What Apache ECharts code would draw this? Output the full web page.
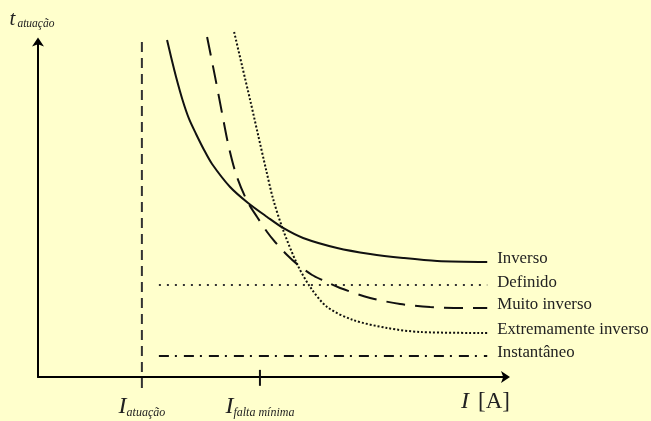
<!DOCTYPE html>
<html>
<head>
<meta charset="utf-8">
<script src="https://cdn.jsdelivr.net/npm/echarts@6/dist/echarts.min.js"></script>
<style>
html,body{margin:0;padding:0;background:#FFFFCC;}
#chart{width:651px;height:421px;}
</style>
</head>
<body>
<div id="chart"></div>
<script>
// Units: current I (x, 0..99) and operating time t (y, 0..98.8), arbitrary
const inverso = [[27.33,99.41],[28.18,94.40],[29.24,88.50],[30.61,81.71],[31.99,76.11],[33.47,71.68],[35.17,66.96],[36.86,62.83],[40.68,56.05],[44.49,51.33],[48.52,47.20],[51.91,43.95],[56.14,41.00],[63.35,38.05],[70.34,36.28],[77.33,35.10],[84.53,34.22],[95.13,33.92]];
const muitoInverso = [[35.81,100.29],[37.50,88.50],[39.09,76.99],[40.36,68.14],[42.06,59.29],[44.28,51.92],[46.40,47.20],[48.52,42.77],[50.21,39.82],[52.75,35.99],[55.08,33.04],[58.05,30.09],[60.17,28.61],[63.98,26.25],[70.34,23.30],[76.69,21.53],[83.05,20.65],[90.04,20.35],[95.13,20.35]];
const extremamenteInverso = [[41.53,101.77],[43.22,91.74],[44.92,81.71],[46.61,71.39],[48.31,61.06],[49.79,52.51],[51.91,43.36],[54.87,33.33],[57.63,26.55],[61.23,20.65],[66.74,16.81],[73.94,14.45],[80.93,13.27],[95.13,12.98]];
const definido = [[25.6,27.1],[95.13,27.1]];
const instantaneo = [[25.6,6.2],[95.13,6.2]];
const iAtuacao = 22.0;
const iFaltaMinima = 47.0;
const atuacaoLine = [[iAtuacao,98.8],[iAtuacao,-4.4]];
const faltaTick = [[iFaltaMinima,2.1],[iFaltaMinima,-2.6]];
const seriesNames = ['Inverso','Definido','Muito inverso','Extremamente inverso','Instantâneo'];

const serif = "'Liberation Serif','Times New Roman',serif";
const ink = '#111';
const endLabel = {show:true, formatter:'{a}', distance:10, offset:[0,-3], fontFamily:serif, fontSize:16.8, color:'#222'};

const chart = echarts.init(document.getElementById('chart'));
chart.setOption({
  backgroundColor:'#FFFFCC',
  animation:false,
  grid:{left:38, right:145.5, top:42, bottom:44, outerBoundsMode:'none', containLabel:false},
  xAxis:{
    type:'value', min:0, max:99,
    axisLine:{show:true, onZero:false, lineStyle:{color:'#000', width:2}, symbol:['none','arrow'], symbolSize:[9,9], symbolOffset:[0,4.5]},
    axisTick:{show:false},
    splitLine:{show:false},
    axisLabel:{
      show:true, customValues:[iAtuacao, iFaltaMinima], margin:18,
      formatter:function(v){ return Math.abs(v-iAtuacao)<0.5 ? '{I|I}{s|atuação}' : '{I|I}{s|falta mínima}'; },
      rich:{
        I:{fontFamily:serif, fontStyle:'italic', fontSize:24, color:'#222', verticalAlign:'bottom', lineHeight:24},
        s:{fontFamily:serif, fontStyle:'italic', fontSize:12, color:'#222', verticalAlign:'bottom', lineHeight:24}
      }
    },
    name:'{I|I}[A]', nameLocation:'end', nameGap:4.5,
    nameTextStyle:{align:'right', verticalAlign:'top', padding:[13,0,0,0], fontFamily:serif, fontSize:23, color:'#222',
      rich:{I:{fontFamily:serif, fontStyle:'italic', fontSize:24, color:'#222', padding:[0,9,0,0]}}}
  },
  yAxis:{
    type:'value', min:0, max:98.8,
    axisLine:{show:true, onZero:false, lineStyle:{color:'#000', width:2}, symbol:['none','arrow'], symbolSize:[9,9], symbolOffset:[0,4.5]},
    axisTick:{show:false}, splitLine:{show:false}, axisLabel:{show:false},
    name:'{t|t}{s|atuação}', nameLocation:'end', nameGap:12,
    nameTextStyle:{align:'center', padding:[0,12,0,0],
      rich:{
        t:{fontFamily:serif, fontStyle:'italic', fontSize:21, color:'#222', verticalAlign:'bottom', lineHeight:24},
        s:{fontFamily:serif, fontStyle:'italic', fontSize:11.5, color:'#222', verticalAlign:'bottom', lineHeight:24, padding:[0,0,0,2]}
      }}
  },
  series:[
    {name:seriesNames[0], type:'line', data:inverso, smooth:0.3, showSymbol:false, clip:false,
      lineStyle:{color:ink, width:2}, endLabel:endLabel},
    {name:seriesNames[1], type:'line', data:definido, showSymbol:false, clip:false,
      lineStyle:{color:'#333', width:2, type:[2,6]}, endLabel:endLabel},
    {name:seriesNames[2], type:'line', data:muitoInverso, smooth:0.3, showSymbol:false, clip:false,
      lineStyle:{color:ink, width:2, type:[19,10]}, endLabel:endLabel},
    {name:seriesNames[3], type:'line', data:extremamenteInverso, smooth:0.3, showSymbol:false, clip:false,
      lineStyle:{color:'#111', width:2, type:[2,2]}, endLabel:endLabel},
    {name:seriesNames[4], type:'line', data:instantaneo, showSymbol:false, clip:false,
      lineStyle:{color:ink, width:2, type:[10,6,2,7]}, endLabel:endLabel},
    {name:'I_atuação', type:'line', data:atuacaoLine, showSymbol:false, clip:false,
      lineStyle:{color:'#333', width:2, type:[10,6]}},
    {name:'I_falta', type:'line', data:faltaTick, showSymbol:false, clip:false,
      lineStyle:{color:'#111', width:2}}
  ]
});
</script>
</body>
</html>
